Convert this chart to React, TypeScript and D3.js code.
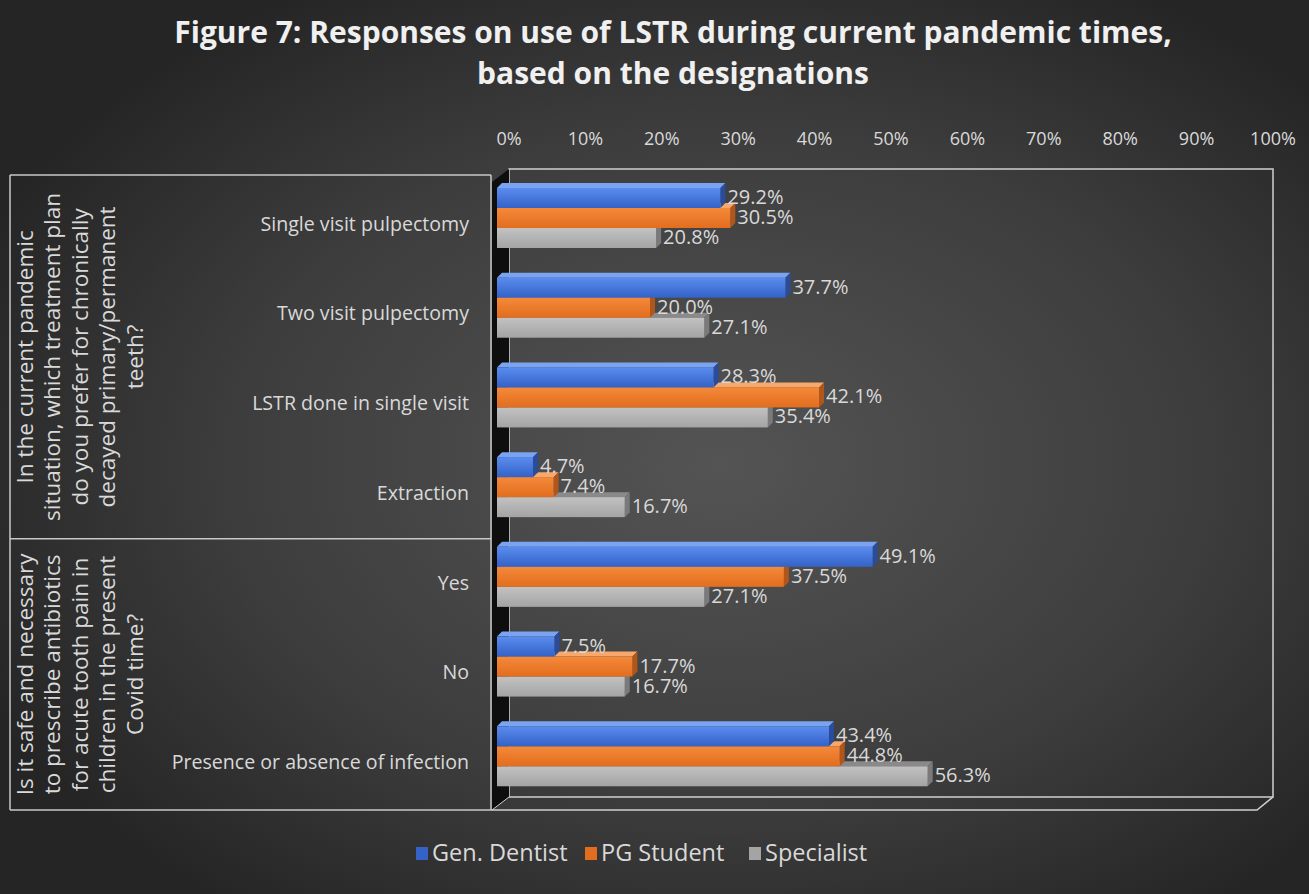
import React from "react";
import * as d3 from "d3";

const categories = [
  "Single visit pulpectomy",
  "Two visit pulpectomy",
  "LSTR done in single visit",
  "Extraction",
  "Yes",
  "No",
  "Presence or absence of infection",
];
const seriesNames = ["Gen. Dentist", "PG Student", "Specialist"];
const genDentist = [29.2, 37.7, 28.3, 4.7, 49.1, 7.5, 43.4];
const pgStudent = [30.5, 20.0, 42.1, 7.4, 37.5, 17.7, 44.8];
const specialist = [20.8, 27.1, 35.4, 16.7, 27.1, 16.7, 56.3];
const tickValues = [0, 10, 20, 30, 40, 50, 60, 70, 80, 90, 100];
const group1Lines = [
  "In the current pandemic",
  "situation, which treatment plan",
  "do you prefer for chronically",
  "decayed primary/permanent",
  "teeth?",
];
const group2Lines = [
  "Is it safe and necessary",
  "to prescribe antibiotics",
  "for acute tooth pain in",
  "children in the present",
  "Covid time?",
];
const titleLines = [
  "Figure 7: Responses on use of LSTR during current pandemic times,",
  "based on the designations",
];

const W = 1309;
const H = 894;
const FONT = "'Open Sans', Lato, sans-serif";
const TXT = "#d9d9d9";

const palette = [
  { front0: "#5a8cf0", front1: "#3462c6", top: "#7aa4f2", side: "#2a4c9a" },
  { front0: "#f5893a", front1: "#e26d1e", top: "#f7a86a", side: "#b0561a" },
  { front0: "#c2c2c2", front1: "#a4a4a4", top: "#8a8a8a", side: "#7a7a7a" },
];

export default function App() {
  const seriesValues = [genDentist, pgStudent, specialist];
  const DX = 13;
  const DY = 13;
  const frontLeft = 497;
  const frontRight = 1262;
  const plotTop = 182;
  const plotBottom = 810;
  const x = d3.scaleLinear().domain([0, 100]).range([frontLeft, frontRight]);
  const xBack = d3.scaleLinear().domain([0, 100]).range([frontLeft + 12, frontRight + 11]);
  const y = d3.scaleBand<string>().domain(categories).range([plotTop, plotBottom]).paddingInner(0);
  const ySeries = d3.scaleBand<string>().domain(seriesNames).range([6, 66]);
  const bd = 5;

  const tableLeft = 10;
  const tableRight = 491;
  const tableTop = 175;
  const divider = y(categories[4])! - 2;

  const bars: React.ReactNode[] = [];
  const labels: React.ReactNode[] = [];
  categories.forEach((c, ci) => {
    [2, 1, 0].forEach((si) => {
      const v = seriesValues[si][ci];
      const y0 = y(c)! + ySeries(seriesNames[si])!;
      const h = ySeries.bandwidth();
      const x0 = x(0);
      const x1 = x(v);
      const p = palette[si];
      bars.push(
        <g key={`b${ci}-${si}`}>
          <polygon
            points={`${x0},${y0} ${x0 + bd},${y0 - bd} ${x1 + bd},${y0 - bd} ${x1},${y0}`}
            fill={p.top}
          />
          <polygon
            points={`${x1},${y0} ${x1 + bd},${y0 - bd} ${x1 + bd},${y0 + h - bd} ${x1},${y0 + h}`}
            fill={p.side}
          />
          <rect x={x0} y={y0} width={x1 - x0} height={h} fill={`url(#grad${si})`} />
        </g>
      );
      labels.push(
        <text
          key={`l${ci}-${si}`}
          x={x1 + bd + 2}
          y={y0 + h / 2 - 1}
          dy="0.35em"
          fill={TXT}
          fontSize={20}
          fontFamily={FONT}
        >
          {v.toFixed(1)}%
        </text>
      );
    });
  });

  const groupLabel = (lines: string[], cy: number, key: string) => (
    <text
      key={key}
      transform={`translate(${80},${cy}) rotate(-90)`}
      fill={TXT}
      fontSize={22.5}
      fontFamily={FONT}
      textAnchor="middle"
    >
      {lines.map((l, i) => (
        <tspan key={i} x={0} y={(i - (lines.length - 1) / 2) * 27.5} dy="0.35em">
          {l}
        </tspan>
      ))}
    </text>
  );

  const legendItems = [
    { name: seriesNames[0], sx: 416, tx: 432 },
    { name: seriesNames[1], sx: 585, tx: 601 },
    { name: seriesNames[2], sx: 749, tx: 765 },
  ];

  return (
    <svg
      width={W}
      height={H}
      style={{ position: "absolute", left: 0, top: 0 }}
      xmlns="http://www.w3.org/2000/svg"
    >
      <defs>
        <radialGradient id="bg" cx="0.55" cy="0.52" r="0.62">
          <stop offset="0" stopColor="#545454" />
          <stop offset="0.6" stopColor="#3d3d3d" />
          <stop offset="1" stopColor="#252525" />
        </radialGradient>
        {palette.map((p, i) => (
          <linearGradient key={i} id={`grad${i}`} x1="0" y1="0" x2="0" y2="1">
            <stop offset="0" stopColor={p.front0} />
            <stop offset="1" stopColor={p.front1} />
          </linearGradient>
        ))}
      </defs>
      <rect x={0} y={0} width={W} height={H} fill="url(#bg)" />

      {titleLines.map((t, i) => (
        <text
          key={i}
          x={673}
          y={43 + i * 41}
          textAnchor="middle"
          fill="#f0f0f0"
          fontSize={30}
          fontWeight="bold"
          fontFamily={FONT}
        >
          {t}
        </text>
      ))}

      {tickValues.map((t) => (
        <text
          key={t}
          x={xBack(t)}
          y={145}
          textAnchor="middle"
          fill={TXT}
          fontSize={18}
          fontFamily={FONT}
        >
          {t}%
        </text>
      ))}

      <rect
        x={frontLeft + DX - 1}
        y={plotTop - DY}
        width={frontRight + 11 - (frontLeft + DX - 1)}
        height={plotBottom - plotTop}
        fill="none"
        stroke="#d0d0d0"
        strokeWidth={1.5}
      />
      <polygon
        points={`${tableRight + 1},${plotTop} ${frontLeft + DX - 1},${plotTop - DY} ${frontLeft + DX - 1},${plotBottom - DY} ${tableRight + 1},${plotBottom}`}
        fill="#0e0e0e"
      />
      <polyline
        points={`${tableRight},${plotBottom} ${frontRight - 5},${plotBottom} ${frontRight + 11},${plotBottom - DY}`}
        fill="none"
        stroke="#d0d0d0"
        strokeWidth={1.5}
      />
      <line
        x1={tableRight + 1}
        y1={plotBottom}
        x2={frontLeft + DX - 1}
        y2={plotBottom - DY}
        stroke="#d0d0d0"
        strokeWidth={1}
      />

      <g stroke="#c8c8c8" strokeWidth={1.5} fill="none">
        <line x1={tableLeft} y1={tableTop} x2={tableRight} y2={tableTop} />
        <line x1={tableLeft} y1={divider} x2={tableRight} y2={divider} />
        <line x1={tableLeft} y1={plotBottom} x2={tableRight} y2={plotBottom} />
        <line x1={tableLeft} y1={tableTop} x2={tableLeft} y2={plotBottom} />
        <line x1={tableRight} y1={tableTop} x2={tableRight} y2={plotBottom} />
      </g>

      {categories.map((c) => (
        <text
          key={c}
          x={469}
          y={y(c)! + y.bandwidth() / 2 - 3}
          dy="0.35em"
          textAnchor="end"
          fill={TXT}
          fontSize={19.6}
          fontFamily={FONT}
        >
          {c}
        </text>
      ))}

      {groupLabel(group1Lines, (tableTop + divider) / 2, "g1")}
      {groupLabel(group2Lines, (divider + plotBottom) / 2, "g2")}

      {bars}
      {labels}

      {legendItems.map((it, i) => (
        <g key={it.name}>
          <rect x={it.sx} y={847} width={12} height={13} fill={palette[i].front1} />
          <text x={it.tx} y={853} dy="0.35em" fill={TXT} fontSize={23.5} fontFamily={FONT}>
            {it.name}
          </text>
        </g>
      ))}
    </svg>
  );
}
